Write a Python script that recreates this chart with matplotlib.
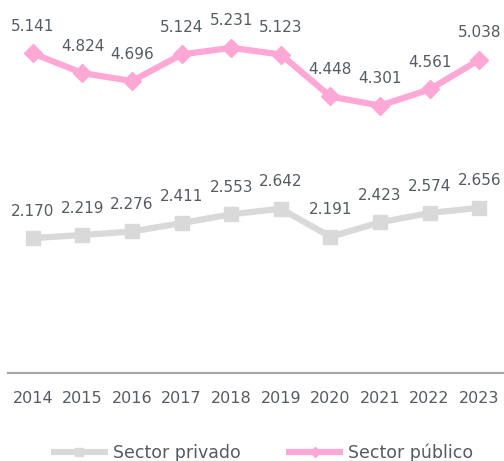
import matplotlib
matplotlib.use("Agg")
import matplotlib.pyplot as plt

years = ["2014", "2015", "2016", "2017", "2018", "2019", "2020", "2021", "2022", "2023"]
privado = [2.170, 2.219, 2.276, 2.411, 2.553, 2.642, 2.191, 2.423, 2.574, 2.656]
publico = [5.141, 4.824, 4.696, 5.124, 5.231, 5.123, 4.448, 4.301, 4.561, 5.038]
series_names = ["Sector privado", "Sector público"]

text_color = "#555B63"
gray = "#D9D9D9"
pink = "#FFA8D6"

plt.rcParams['font.family'] = ['DejaVu Sans']

fig = plt.figure(figsize=(5.04, 4.61), dpi=100)
ax = fig.add_axes([0.016, 0.191, 0.984, 0.809])

x = list(range(len(years)))
ax.plot(x, privado, color=gray, lw=4.5, marker='s', markersize=10,
        label=series_names[0], solid_capstyle='butt')
ax.plot(x, publico, color=pink, lw=4.5, marker='D', markersize=9,
        label=series_names[1], solid_capstyle='butt')

def fmt(v):
    return f"{v:.3f}"

for xi, v in zip(x, privado):
    ax.annotate(fmt(v), (xi, v), xytext=(0, 14), textcoords='offset points',
                ha='center', va='bottom', fontsize=11, color=text_color)
for xi, v in zip(x, publico):
    ax.annotate(fmt(v), (xi, v), xytext=(0, 14), textcoords='offset points',
                ha='center', va='bottom', fontsize=11, color=text_color)

ax.set_xlim(-0.5, len(years) - 0.5)
ax.set_ylim(0, 6)
ax.set_xticks(x)
ax.set_xticklabels(years, fontsize=11.5, color=text_color)
ax.tick_params(axis='x', length=0, pad=13)
ax.set_yticks([])
for s in ['left', 'right', 'top']:
    ax.spines[s].set_visible(False)
ax.spines['bottom'].set_color('#A6A6A6')
ax.spines['bottom'].set_linewidth(1.5)

leg = fig.legend(loc='lower center', bbox_to_anchor=(0.52, -0.037), ncol=2,
                 frameon=False, fontsize=12.5, handlelength=3.3, columnspacing=2.6,
                 handletextpad=0.3, markerscale=0.6)
for t in leg.get_texts():
    t.set_color(text_color)

fig.savefig("out.png", dpi=100)
